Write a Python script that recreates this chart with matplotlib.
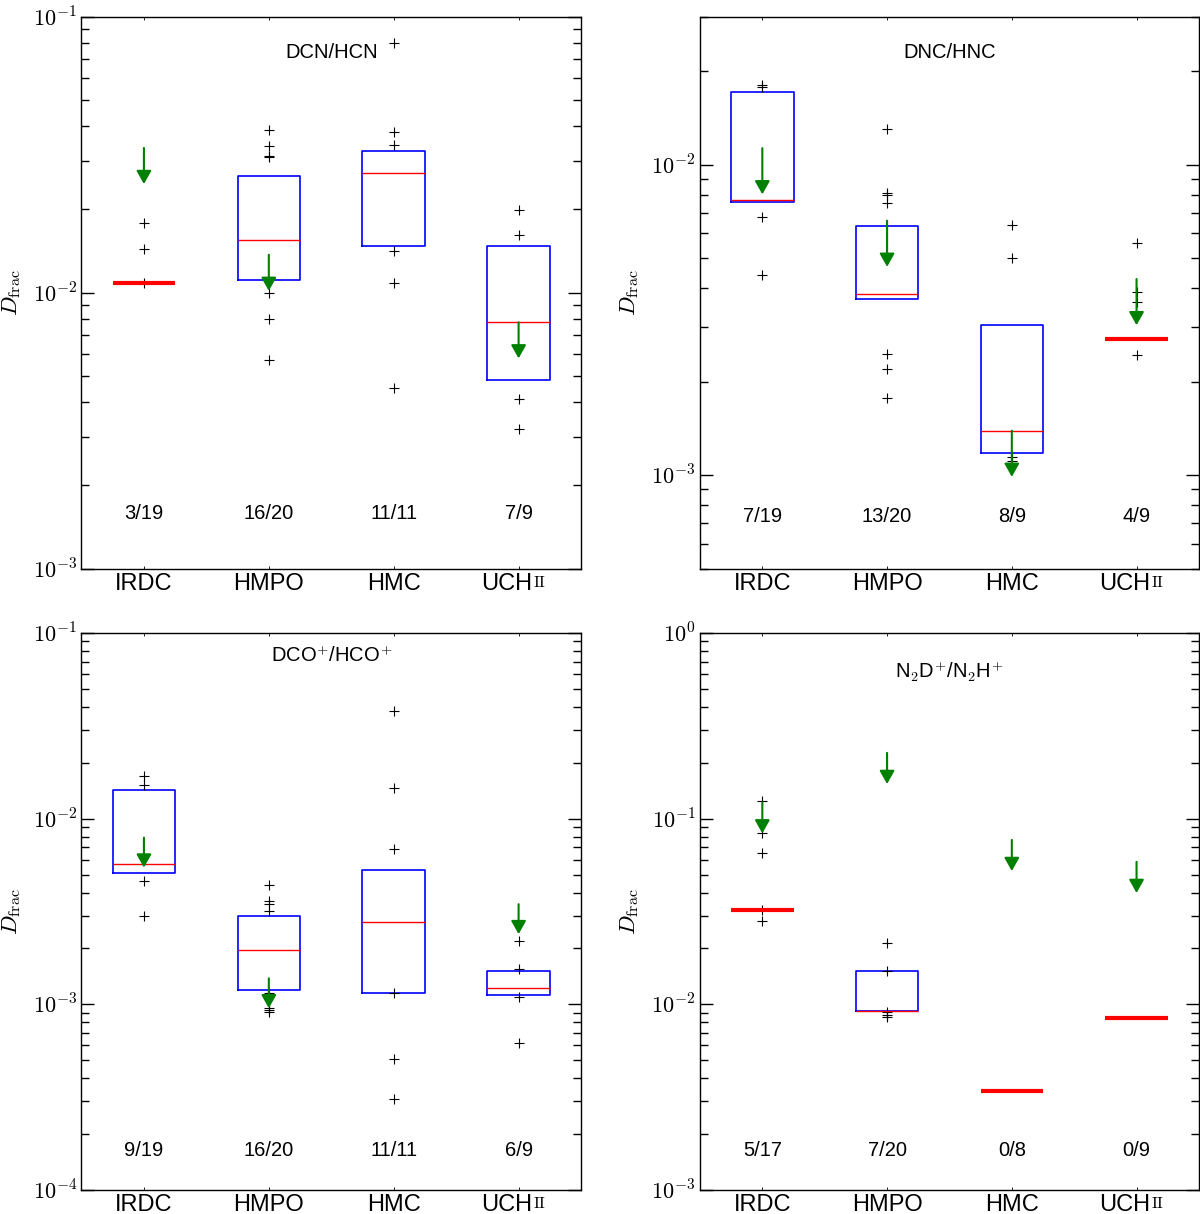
import matplotlib
matplotlib.use("Agg")
import matplotlib.pyplot as plt
from matplotlib.ticker import LogLocator, FuncFormatter, NullFormatter
import numpy as np

plt.rcParams['font.family'] = ['Liberation Sans', 'DejaVu Sans']
plt.rcParams['mathtext.fontset'] = 'cm'

categories = ['IRDC', 'HMPO', 'HMC', 'UCH']
positions = [1, 2, 3, 4]

# ---- DCN/HCN ----
dcn_q1 = [0.0108, 0.0111, 0.0147, 0.0048]
dcn_med = [0.0108, 0.0155, 0.0272, 0.0078]
dcn_q3 = [0.0108, 0.0264, 0.0325, 0.0148]
dcn_fliers = [[0.0108, 0.0144, 0.0179],
              [0.0388, 0.0339, 0.0313, 0.0310, 0.0100, 0.0080, 0.0057],
              [0.080, 0.038, 0.0342, 0.0141, 0.0108, 0.0045],
              [0.0199, 0.0161, 0.0041, 0.0032]]
dcn_lim_x = [1, 2, 4]
dcn_lim = [0.0334, 0.0137, 0.0078]
dcn_counts = ['3/19', '16/20', '11/11', '7/9']

# ---- DNC/HNC ----
dnc_q1 = [0.00756, 0.00368, 0.00118, 0.00274]
dnc_med = [0.00771, 0.00383, 0.00139, 0.00274]
dnc_q3 = [0.0171, 0.00634, 0.00304, 0.00274]
dnc_fliers = [[0.0181, 0.0178, 0.0068, 0.0044],
              [0.0130, 0.0081, 0.0080, 0.0075, 0.00246, 0.0022, 0.00177],
              [0.0064, 0.0050, 0.00114, 0.00111],
              [0.0056, 0.0039, 0.0036, 0.00243]]
dnc_lim_x = [1, 2, 3, 4]
dnc_lim = [0.0113, 0.0066, 0.00139, 0.00428]
dnc_counts = ['7/19', '13/20', '8/9', '4/9']

# ---- DCO+/HCO+ ----
dco_q1 = [0.00512, 0.0012, 0.00115, 0.00112]
dco_med = [0.00571, 0.00196, 0.00277, 0.00123]
dco_q3 = [0.0143, 0.0030, 0.00532, 0.00152]
dco_fliers = [[0.0169, 0.0152, 0.0046, 0.0030],
              [0.0044, 0.0036, 0.00345, 0.0032, 0.00115, 0.00096, 0.00093, 0.00091],
              [0.038, 0.0147, 0.0069, 0.00115, 0.00051, 0.00031],
              [0.0022, 0.00154, 0.00109, 0.00062]]
dco_lim_x = [1, 2, 4]
dco_lim = [0.0079, 0.00138, 0.00346]
dco_counts = ['9/19', '16/20', '11/11', '6/9']

# ---- N2D+/N2H+ ----
n2d_q1 = [0.0324, 0.0092, 0.00343, 0.0084]
n2d_med = [0.0324, 0.0092, 0.00343, 0.0084]
n2d_q3 = [0.0324, 0.0152, 0.00343, 0.0084]
n2d_fliers = [[0.124, 0.084, 0.065, 0.0324, 0.0282],
              [0.0215, 0.0152, 0.0091, 0.0088, 0.0085],
              [], []]
n2d_lim_x = [1, 2, 3, 4]
n2d_lim = [0.1225, 0.226, 0.0768, 0.0585]
n2d_counts = ['5/17', '7/20', '0/8', '0/9']

titles = ['DCN/HCN', 'DNC/HNC', r'DCO$^{\mathsf{+}}$/HCO$^{\mathsf{+}}$',
          r'N$_{\mathsf{2}}$D$^{\mathsf{+}}$/N$_{\mathsf{2}}$H$^{\mathsf{+}}$']
ylims = [(1e-3, 1e-1), (5e-4, 3e-2), (1e-4, 1e-1), (1e-3, 1e0)]

panels = [
    (dcn_q1, dcn_med, dcn_q3, dcn_fliers, dcn_lim_x, dcn_lim, dcn_counts),
    (dnc_q1, dnc_med, dnc_q3, dnc_fliers, dnc_lim_x, dnc_lim, dnc_counts),
    (dco_q1, dco_med, dco_q3, dco_fliers, dco_lim_x, dco_lim, dco_counts),
    (n2d_q1, n2d_med, n2d_q3, n2d_fliers, n2d_lim_x, n2d_lim, n2d_counts),
]

# layout / style
axes_rects = [[0.0679, 0.5317, 0.4163, 0.4547], [0.5833, 0.5317, 0.4158, 0.4547],
              [0.0679, 0.0198, 0.4163, 0.4588], [0.5833, 0.0198, 0.4158, 0.4588]]
arrow_ratio = [0.74, 0.71, 0.69, 0.68]
title_y = [0.934, 0.934, 0.96, 0.93]
count_y = [0.099, 0.094, 0.071, 0.071]

fig = plt.figure(figsize=(12, 12.14), dpi=100)

for i, (q1, med, q3, fl, lx, lv, cnts) in enumerate(panels):
    ax = fig.add_axes(axes_rects[i])
    stats = []
    for k in range(4):
        stats.append(dict(med=med[k], q1=q1[k], q3=q3[k], whislo=q1[k],
                          whishi=q3[k], fliers=np.array(fl[k]), label=categories[k]))
    res = ax.bxp(stats, positions=positions, widths=0.5, showcaps=False,
                 boxprops=dict(color='blue', lw=1.2),
                 medianprops=dict(color='red', lw=1.0),
                 whiskerprops=dict(color='blue', lw=0),
                 flierprops=dict(marker='+', markeredgecolor='black',
                                 markersize=6.5, markeredgewidth=0.8, linestyle='none'))
    for k, mline in enumerate(res['medians']):
        if q1[k] == q3[k]:
            mline.set_linewidth(3)
            res['boxes'][k].set_visible(False)
    for x, v in zip(lx, lv):
        ax.annotate('', xy=(x, v * arrow_ratio[i]), xytext=(x, v),
                    arrowprops=dict(arrowstyle='-|>,head_length=0.8,head_width=0.45',
                                    mutation_scale=10, color='green', lw=1.5,
                                    shrinkA=0, shrinkB=0), zorder=4)
    ax.set_yscale('log')
    ax.set_ylim(*ylims[i])
    ax.set_xlim(0.5, 4.5)
    ax.yaxis.set_major_locator(LogLocator(base=10))
    ax.yaxis.set_minor_locator(LogLocator(base=10, subs=np.arange(2, 10)))
    ax.yaxis.set_major_formatter(FuncFormatter(lambda v, p: r'$10^{%d}$' % int(round(np.log10(v)))))
    ax.yaxis.set_minor_formatter(NullFormatter())
    ax.tick_params(axis='y', which='major', direction='in', length=9.5, width=1,
                   left=True, right=True, labelsize=16, pad=3)
    ax.tick_params(axis='y', which='minor', direction='in', length=5.5, width=1,
                   left=True, right=True)
    ax.set_xticks(positions)
    ax.set_xticklabels(['IRDC', 'HMPO', 'HMC', ''])
    ax.tick_params(axis='x', which='major', direction='in', length=2, width=0.6,
                   top=True, bottom=True, labelsize=17, pad=3)
    t1 = ax.annotate('UCH', xy=(4, 0), xycoords=('data', 'axes fraction'),
                     xytext=(-8.5, -3), textcoords='offset points',
                     ha='center', va='top', fontsize=17)
    ax.annotate(r'$\mathrm{II}$', xy=(1, 0), xycoords=t1, xytext=(0.5, 3.6),
                textcoords='offset points', ha='left', va='bottom', fontsize=11.5)
    ax.set_ylabel(r'$D_{\rm frac}$', fontsize=16.5)
    ax.yaxis.set_label_coords(-0.118, 0.5)
    ax.text(0.5, title_y[i], titles[i], transform=ax.transAxes, ha='center',
            va='center', fontsize=14.5)
    for k in range(4):
        ax.text(positions[k], count_y[i], cnts[k], transform=ax.get_xaxis_transform(),
                ha='center', va='center', fontsize=14.5)
    for s in ax.spines.values():
        s.set_linewidth(1.0)

fig.savefig('out.png', dpi=100)
